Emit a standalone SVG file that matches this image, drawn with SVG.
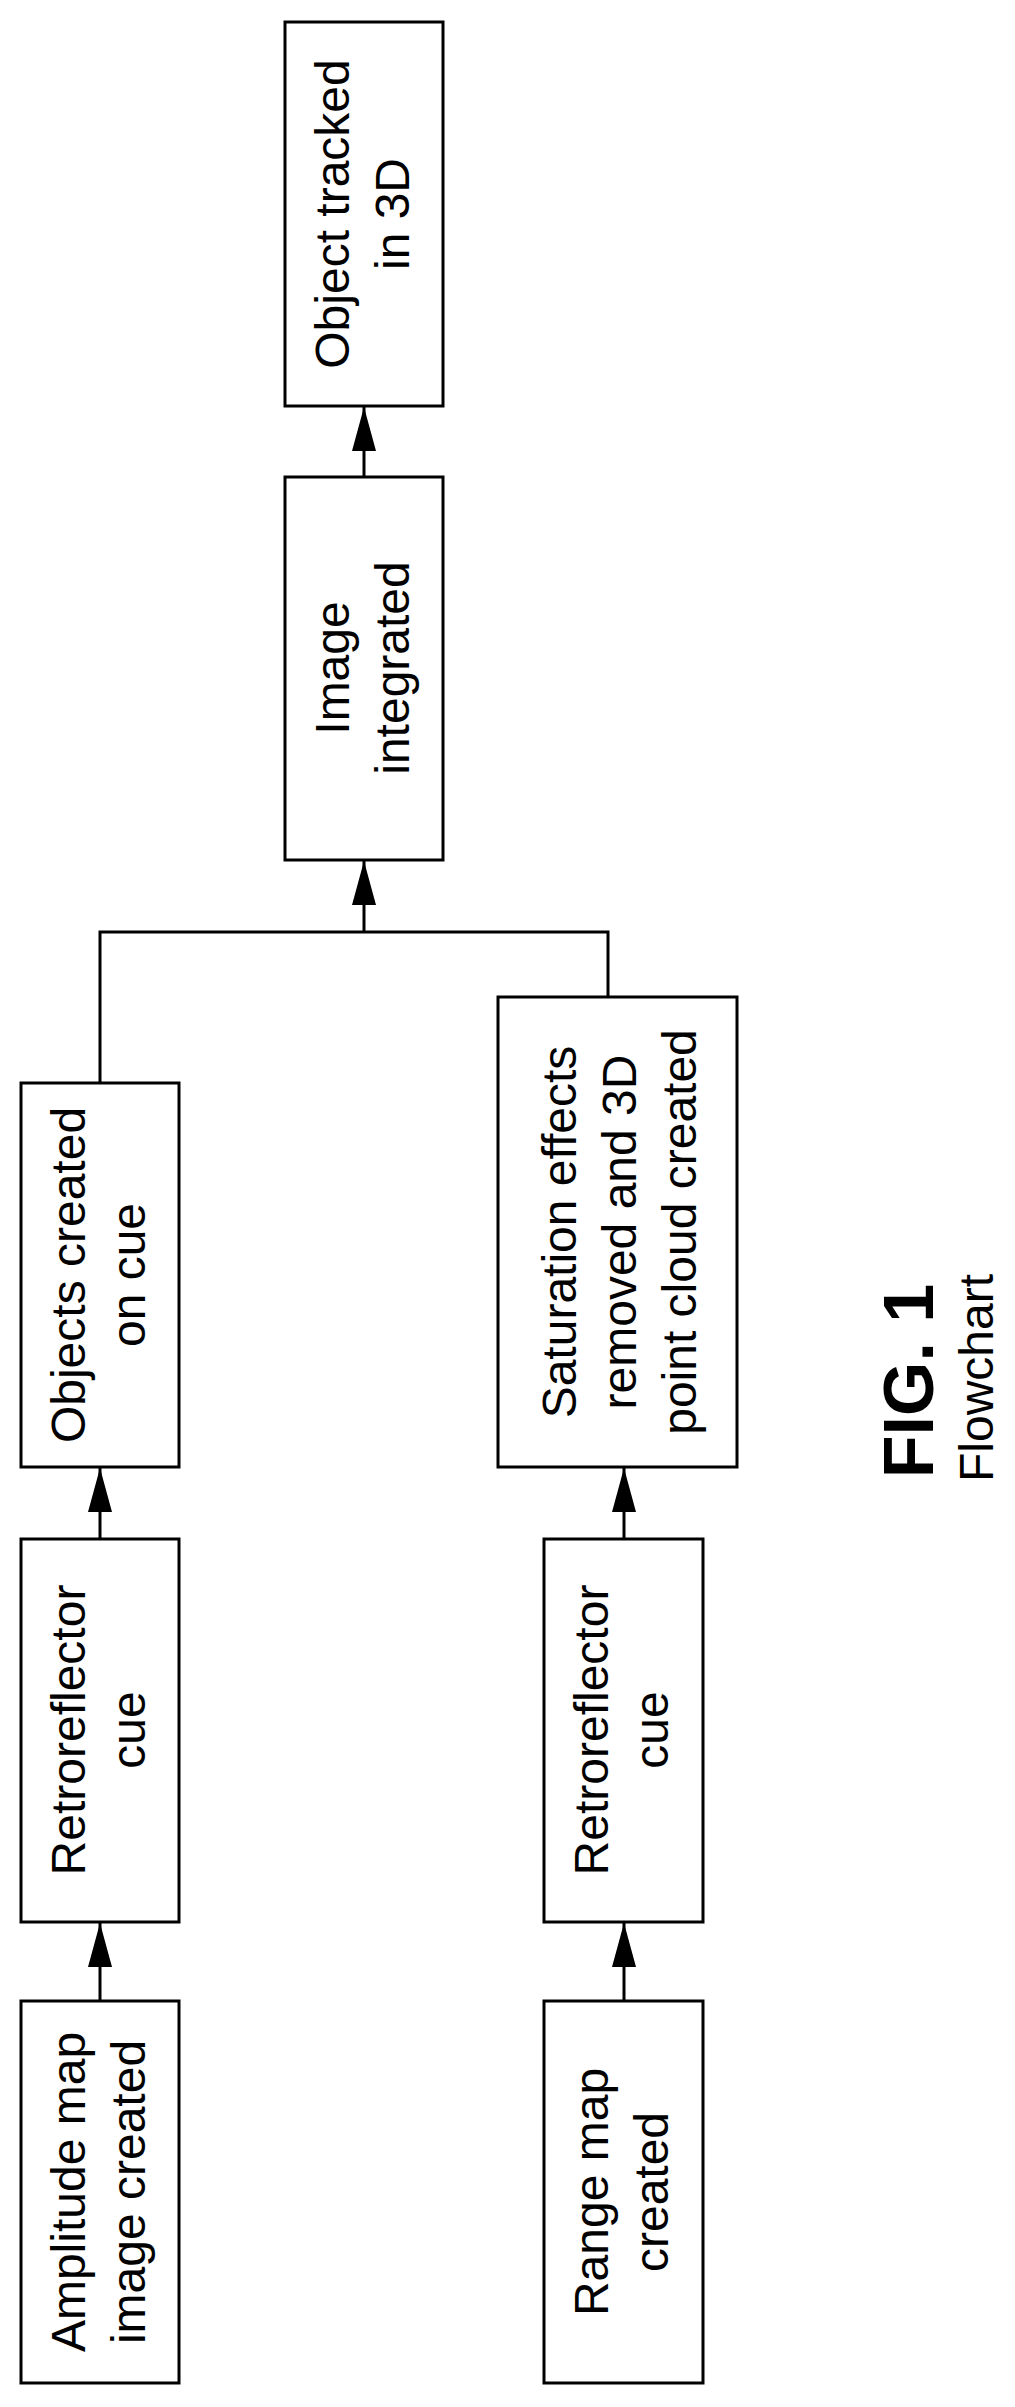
<svg xmlns="http://www.w3.org/2000/svg" width="1015" height="2407" viewBox="0 0 1015 2407">
<style>
.b{fill:#fff;stroke:#000;stroke-width:3}
.l{fill:none;stroke:#000;stroke-width:3}
text{font-family:"Liberation Sans",Arial,sans-serif;font-size:48px;text-anchor:middle;fill:#000}
</style>
<defs>
<marker id="ah" markerUnits="userSpaceOnUse" markerWidth="44" markerHeight="24" viewBox="0 0 44 24" refX="44" refY="12" orient="auto">
<path d="M0,0 L44,12 L0,24 Z" fill="#000"/>
</marker>
</defs>
<rect width="1015" height="2407" fill="#fff"/>
<g id="connectors">
<path class="l" d="M364,477 V407" marker-end="url(#ah)"/>
<path class="l" d="M364,932 V861" marker-end="url(#ah)"/>
<path class="l" d="M100,1083 V932 H608 V997"/>
<path class="l" d="M100,1539 V1468" marker-end="url(#ah)"/>
<path class="l" d="M100,2001 V1923" marker-end="url(#ah)"/>
<path class="l" d="M624,1539 V1468" marker-end="url(#ah)"/>
<path class="l" d="M624,2001 V1923" marker-end="url(#ah)"/>
</g>
<g id="n_tracked"><rect class="b" x="285" y="22" width="158" height="384"/>
<text transform="translate(364,214) rotate(-90)"><tspan x="0" y="-15">Object tracked</tspan><tspan x="0" y="45">in 3D</tspan></text></g>
<g id="n_integrated"><rect class="b" x="285" y="477" width="158" height="383"/>
<text transform="translate(364,668) rotate(-90)"><tspan x="0" y="-15">Image</tspan><tspan x="0" y="45">integrated</tspan></text></g>
<g id="n_objects"><rect class="b" x="21" y="1083" width="158" height="384"/>
<text transform="translate(100,1275) rotate(-90)"><tspan x="0" y="-15">Objects created</tspan><tspan x="0" y="45">on cue</tspan></text></g>
<g id="n_saturation"><rect class="b" x="498" y="997" width="239" height="470"/>
<text transform="translate(617,1232) rotate(-90)"><tspan x="0" y="-41">Saturation effects</tspan><tspan x="0" y="19">removed and 3D</tspan><tspan x="0" y="79">point cloud created</tspan></text></g>
<g id="n_retro1"><rect class="b" x="21" y="1539" width="158" height="383"/>
<text transform="translate(100,1730) rotate(-90)"><tspan x="0" y="-15">Retroreflector</tspan><tspan x="0" y="45">cue</tspan></text></g>
<g id="n_retro2"><rect class="b" x="544" y="1539" width="159" height="383"/>
<text transform="translate(623,1730) rotate(-90)"><tspan x="0" y="-15">Retroreflector</tspan><tspan x="0" y="45">cue</tspan></text></g>
<g id="n_amplitude"><rect class="b" x="21" y="2001" width="158" height="382"/>
<text transform="translate(100,2192) rotate(-90)"><tspan x="0" y="-15">Amplitude map</tspan><tspan x="0" y="45">image created</tspan></text></g>
<g id="n_range"><rect class="b" x="544" y="2001" width="159" height="382"/>
<text transform="translate(623,2192) rotate(-90)"><tspan x="0" y="-15">Range map</tspan><tspan x="0" y="45">created</tspan></text></g>
<g id="caption">
<text transform="translate(933,1381) rotate(-90)" style="font-weight:bold;font-size:70px">FIG. 1</text>
<text transform="translate(993,1378) rotate(-90)">Flowchart</text>
</g>
</svg>
